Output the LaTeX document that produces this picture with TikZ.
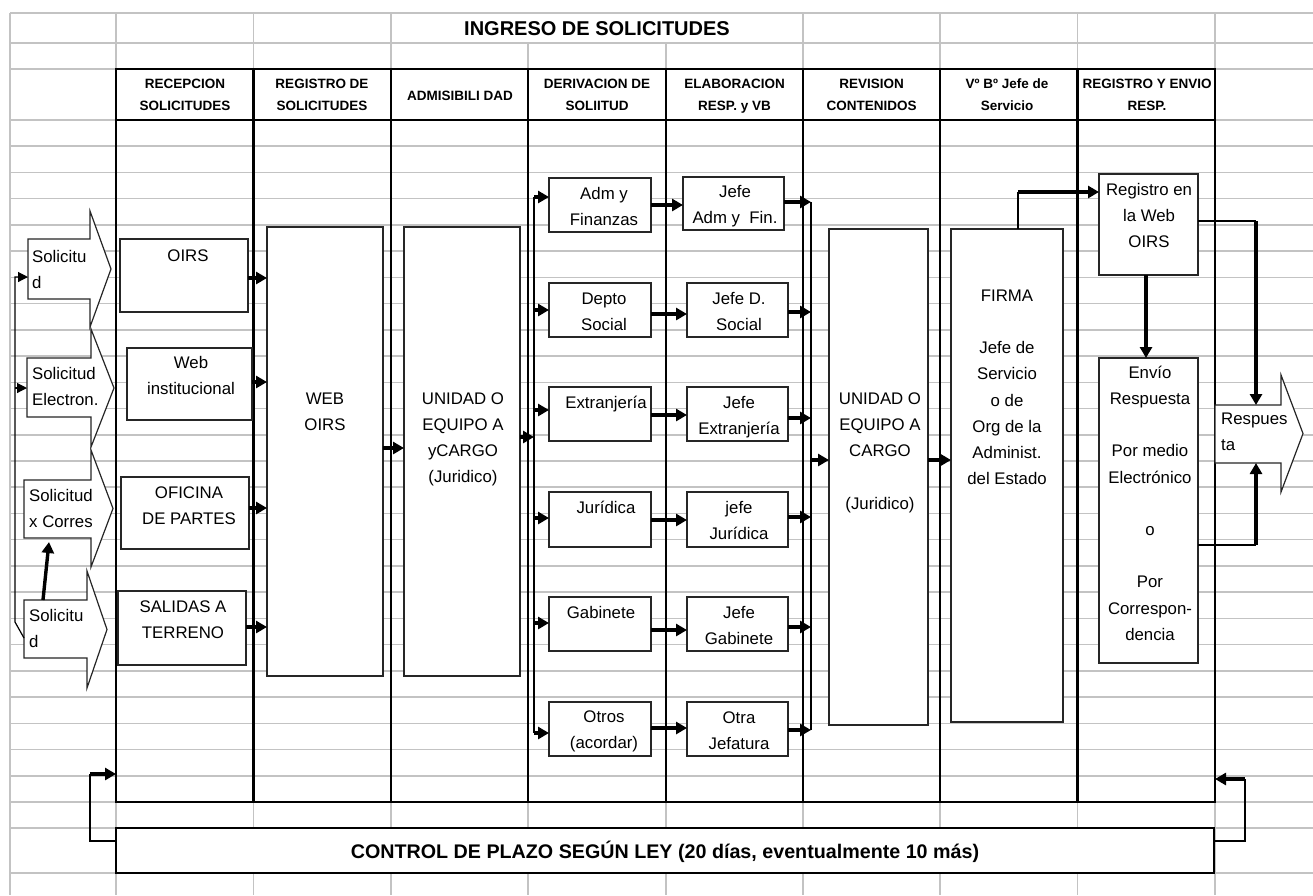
\documentclass[tikz,border=0pt]{standalone}
\usepackage{fontspec}
\setmainfont{Liberation Sans}
\usetikzlibrary{arrows.meta,calc}
\definecolor{gridgray}{RGB}{195,195,195}
\newcommand\SB{\strut}
\newcommand\bodyfont{\fontsize{16.8}{26.2}\selectfont}
\newcommand\headfont{\fontsize{13.5}{22}\selectfont\bfseries}
\newcommand\titlefont{\fontsize{20}{24}\selectfont\bfseries}
\newcommand\ctrlfont{\fontsize{19.7}{24}\selectfont\bfseries}
\newcommand\bx[5]{\node[box, minimum width={(#4-#2)*1pt}, minimum height={(#5-#3)*1pt}] (#1) at (#2,#3) {};}
\newcommand\barr[8]{%
  \draw[shp] (#2,#4) -- (#3,#4) -- (#3,#6) -- (#8,{(#6+#7)/2}) -- (#3,#7) -- (#3,#5) -- (#2,#5) -- cycle;
  \node[inner sep=0pt, outer sep=0pt, minimum width={(#3-#2)*1pt}, minimum height={(#5-#4)*1pt}, anchor=north west] (#1) at (#2,#4) {};}
\begin{document}
\begin{tikzpicture}[x=1pt,y=-1pt,
  grid/.style={draw=gridgray, line width=1.6pt},
  lane/.style={draw=black, line width=2.6pt},
  box/.style={draw=black!85, line width=1.2pt, fill=white, inner sep=0pt, outer sep=0pt, anchor=north west},
  shp/.style={draw=black!85, line width=1.2pt, fill=white},
  conn/.style={draw=black, line width=1.2pt},
  arr/.style={draw=black, line width=3.4pt, -{Triangle[length=11pt,width=12pt]}},
  tarr/.style={draw=black, line width=1.2pt, -{Triangle[length=10pt,width=10pt]}},
  txt/.style={font=\bodyfont, align=center, anchor=north, inner sep=0pt},
  ltxt/.style={font=\bodyfont, align=left, anchor=north west, inner sep=0pt},
  htxt/.style={font=\headfont, align=center, anchor=north, inner sep=0pt}]
\useasboundingbox (0,0) rectangle (1313,895);
\fill[white] (0,0) rectangle (1313,895);
% spreadsheet grid
\foreach \y in {13,43,69,120,828,873} \draw[grid] (10,\y) -- (1313,\y);
\foreach \k in {1,...,26} \draw[grid] (10,{120+26.23*\k}) -- (1313,{120+26.23*\k});
\draw[grid] (10,13) -- (10,895);
\foreach \x in {116,253.5,391,803,940,1077.5,1215} \draw[grid] (\x,13) -- (\x,895);
\foreach \x in {528,666} \draw[grid] (\x,43) -- (\x,895);
% lanes
\node[inner sep=0pt, outer sep=0pt, minimum width=1099pt, minimum height=733pt, anchor=north west] (table) at (116,69) {};
\draw[lane] (table.north west) rectangle (table.south east);
\draw[lane] (116,120) -- (1215,120);
\foreach \x in {253.5,391,528,666,803,940,1077.5} \draw[lane] (\x,69) -- (\x,802);
% title and headers
\node[font=\titlefont, anchor=north, inner sep=0pt] (title) at (597,18.9) {\SB INGRESO DE SOLICITUDES};
\node[htxt] (h1) at (185,72.4) {\SB RECEPCION\\SOLICITUDES};
\node[htxt] (h2) at (322,72.4) {\SB REGISTRO DE\\SOLICITUDES};
\node[htxt] (h3) at (460,84.4) {\SB ADMISIBILI DAD};
\node[htxt] (h4) at (597,72.4) {\SB DERIVACION DE\\SOLIITUD};
\node[htxt] (h5) at (734.5,72.4) {\SB ELABORACION\\RESP. y VB};
\node[htxt] (h6) at (871.5,72.4) {\SB REVISION\\CONTENIDOS};
\node[htxt] (h7) at (1007,72.4) {\SB Vº Bº Jefe de\\Servicio};
\node[htxt] (h8) at (1147,72.4) {\SB REGISTRO Y ENVIO\\RESP.};
% boxes
\bx{oirs}{120}{239}{248}{312}
\bx{webinst}{127}{348}{252}{420}
\bx{oficina}{121}{477}{249}{549}
\bx{salidas}{118}{591}{246}{665}
\bx{weboirs}{267}{227}{383}{676}
\bx{unidad1}{404}{227}{520}{676}
\bx{der1}{549}{178}{651}{232}
\bx{der2}{549}{283}{651}{337}
\bx{der3}{549}{387}{651}{441}
\bx{der4}{549}{492}{651}{547}
\bx{der5}{549}{597}{651}{651}
\bx{der6}{549}{702}{651}{756}
\bx{ela1}{683}{177}{784}{230}
\bx{ela2}{687}{283}{788}{337}
\bx{ela3}{687}{387}{788}{441}
\bx{ela4}{687}{492}{788}{547}
\bx{ela5}{687}{597}{788}{651}
\bx{ela6}{687}{702}{788}{756}
\bx{unidad2}{829}{229}{928}{725}
\bx{firma}{951}{229}{1063}{722}
\bx{registro}{1099}{174}{1198}{275}
\bx{envio}{1099}{358}{1198}{663}
\node[box, draw=black, line width=2.2pt, minimum width=1098pt, minimum height=45pt] (control) at (116,828) {};
% block arrows
\barr{solA}{28}{90}{239}{299}{211}{327}{111}
\barr{solE}{27}{91}{358}{417}{329}{447}{114}
\barr{solC}{24}{91}{480}{538}{450}{567}{113}
\barr{solD}{24}{87}{600}{658}{571}{688}{107}
\barr{resp}{1215}{1281}{405}{463}{375}{492}{1303}
% texts
\node[txt] (t-oirs) at (188,242.7) {\SB OIRS};
\node[txt] (t-webinst) at (191,349.7) {\SB Web\\institucional};
\node[txt] (t-oficina) at (189,479.7) {\SB OFICINA\\DE PARTES};
\node[txt] (t-salidas) at (183,593.7) {\SB SALIDAS A\\TERRENO};
\node[txt] (t-weboirs) at (325,385.7) {\SB WEB\\OIRS};
\node[txt] (t-unidad1) at (463,385.7) {\SB UNIDAD O\\EQUIPO A\\yCARGO\\(Juridico)};
\node[txt] (t-der1) at (604,180.7) {\SB Adm y\\Finanzas};
\node[txt] (t-der2) at (604,285.7) {\SB Depto\\Social};
\node[txt] (t-der3) at (606,389.7) {\SB Extranjería};
\node[txt] (t-der4) at (606,494.7) {\SB Jurídica};
\node[txt] (t-der5) at (601,599.7) {\SB Gabinete};
\node[txt] (t-der6) at (604,703.7) {\SB Otros\\(acordar)};
\node[txt] (t-ela1) at (735,178.7) {\SB Jefe\\Adm y\ \ Fin.};
\node[txt] (t-ela2) at (739,285.7) {\SB Jefe D.\\Social};
\node[txt] (t-ela3) at (739,389.7) {\SB Jefe\\Extranjería};
\node[txt] (t-ela4) at (739,494.7) {\SB jefe\\Jurídica};
\node[txt] (t-ela5) at (739,599.7) {\SB Jefe\\Gabinete};
\node[txt] (t-ela6) at (739,704.7) {\SB Otra\\Jefatura};
\node[txt] (t-unidad2) at (880,385.7) {\SB UNIDAD O\\EQUIPO A\\CARGO\\[26.2pt](Juridico)};
\node[txt] (t-firma) at (1007,282.7) {\SB FIRMA\\[26.2pt]Jefe de\\Servicio\\o de\\Org de la\\Administ.\\del Estado};
\node[txt] (t-registro) at (1149,176.7) {\SB Registro en\\la Web\\OIRS};
\node[txt] (t-envio) at (1150,359.7) {\SB Envío\\Respuesta\\[26.2pt]Por medio\\Electrónico\\[26.2pt]o\\[26.2pt]Por\\Correspon-\\dencia};
\node[ltxt] (t-solA) at (32,243.7) {\SB Solicitu\\d};
\node[ltxt] (t-solE) at (32,360.7) {\SB Solicitud\\Electron.};
\node[ltxt] (t-solC) at (29,482.7) {\SB Solicitud\\x Corres};
\node[ltxt] (t-solD) at (29,602.7) {\SB Solicitu\\d};
\node[ltxt] (t-resp) at (1221,405.7) {\SB Respues\\ta};
\node[font=\ctrlfont, anchor=north, inner sep=0pt] (t-control) at (665,841.2) {\SB CONTROL DE PLAZO SEGÚN LEY (20 días, eventualmente 10 más)};
% left connectors
\coordinate (lb1) at (15,622);
\coordinate (lb2) at (15,277);
\coordinate (lb3) at (15,388);
\draw[tarr] (solD.west |- 0,638) -- (lb1) -- (lb2) -- (solA.west |- lb2);
\draw[tarr] (lb3) -- (solE.west |- lb3);
\draw[arr] ($(solD.north west)+(19,0)$) -- ($(solC.south west)+(25,4)$);
% reception to web oirs
\draw[arr] (oirs.east |- 0,278) -- (weboirs.west |- 0,278);
\draw[arr] (webinst.east |- 0,382) -- (weboirs.west |- 0,382);
\draw[arr] (oficina.east |- 0,508) -- (weboirs.west |- 0,508);
\draw[arr] (salidas.east |- 0,627) -- (weboirs.west |- 0,627);
\draw[arr] (weboirs.east |- 0,448) -- (unidad1.west |- 0,448);
% derivation bus
\coordinate (db1) at (534,197);
\coordinate (db2) at (534,733);
\draw[conn] (db1) -- (db2);
\draw[arr] (unidad1.east |- 0,437) -- (db1 |- 0,437);
\foreach \n/\y in {der1/197, der2/310, der3/410, der4/518, der5/623, der6/733}
  \draw[arr] (db1 |- 0,\y) -- (\n.west |- 0,\y);
\foreach \a/\b/\y in {der1/ela1/205, der2/ela2/314, der3/ela3/415, der4/ela4/520, der5/ela5/630, der6/ela6/728}
  \draw[arr] (\a.east |- 0,\y) -- (\b.west |- 0,\y);
% review bus
\coordinate (rb1) at (811,202);
\coordinate (rb2) at (811,730);
\draw[conn] (rb1) -- (rb2);
\foreach \b/\y in {ela1/202, ela2/312, ela3/418, ela4/517, ela5/627, ela6/730}
  \draw[arr] (\b.east |- 0,\y) -- (rb1 |- 0,\y);
\draw[arr] (rb1 |- 0,460) -- (unidad2.west |- 0,460);
\draw[arr] (unidad2.east |- 0,460) -- (firma.west |- 0,460);
% firma to registro
\coordinate (fr) at (1018,192);
\draw[conn] (firma.north -| fr) -- (fr);
\draw[arr] (fr) -- (registro.west |- fr);
\draw[arr] (registro.south -| 1146,0) -- (envio.north -| 1146,0);
\coordinate (rr) at (1256,221);
\draw[conn] (registro.east |- rr) -- (rr);
\draw[arr] (rr) -- (resp.north -| rr);
\coordinate (er) at (1256,545);
\draw[conn] (envio.east |- er) -- (er);
\draw[arr] (er) -- (resp.south -| er);
% control loops
\coordinate (cl1) at (90,841);
\coordinate (cl2) at (90,774);
\draw[conn] (control.west |- cl1) -- (cl1) -- (cl2);
\draw[arr] (cl2) -- (table.west |- cl2);
\coordinate (cr1) at (1245,841);
\coordinate (cr2) at (1245,779);
\draw[conn] (control.east |- cr1) -- (cr1) -- (cr2);
\draw[arr] (cr2) -- (table.east |- cr2);
\end{tikzpicture}
\end{document}
